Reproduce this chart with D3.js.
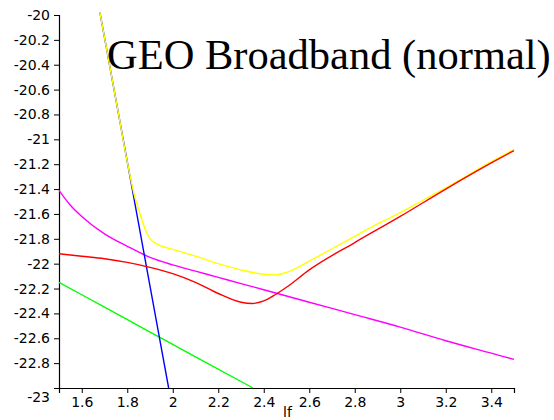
<!DOCTYPE html>
<html>
<head>
<meta charset="utf-8">
<script src="https://cdn.jsdelivr.net/npm/d3@7"></script>
<style>
  html, body { margin: 0; padding: 0; background: #fff; }
  svg { display: block; }
</style>
</head>
<body>
<svg id="chart" width="554" height="420"></svg>
<script>
// Axis ticks
const xTickValues = [1.6, 1.8, 2, 2.2, 2.4, 2.6, 2.8, 3, 3.2, 3.4];
const yTickValues = [-20, -20.2, -20.4, -20.6, -20.8, -21, -21.2, -21.4, -21.6, -21.8,
                     -22, -22.2, -22.4, -22.6, -22.8, -23];

// Series (lf vs. log level)
const greenX = [1.5, 1.7, 1.9, 2.1, 2.353];
const greenY = [-22.15, -22.35, -22.55, -22.75, -23.0];

const magentaX = [1.5, 1.55, 1.6, 1.7, 1.8, 1.9, 2.0, 2.1, 2.2, 2.3, 2.4, 2.6, 2.8, 3.0, 3.2, 3.4, 3.5];
const magentaY = [-21.41, -21.53, -21.62, -21.76, -21.86, -21.95, -22.01, -22.06, -22.11,
                  -22.16, -22.21, -22.31, -22.41, -22.51, -22.62, -22.72, -22.77];

const blueX = [1.68, 1.8, 1.9, 1.982];
const blueY = [-19.98, -21.18, -22.18, -23.0];

const yellowX = [1.68, 1.72, 1.76, 1.8, 1.83, 1.86, 1.88, 1.9, 1.93, 1.97, 2.0, 2.1, 2.2,
                 2.3, 2.4, 2.45, 2.5, 2.6, 2.7, 2.8, 2.9, 3.0, 3.1, 3.2, 3.4, 3.5];
const yellowY = [-19.98, -20.38, -20.78, -21.18, -21.44, -21.62, -21.73, -21.80, -21.84,
                 -21.87, -21.885, -21.94, -22.0, -22.05, -22.085, -22.09, -22.07, -21.98,
                 -21.88, -21.78, -21.68, -21.59, -21.49, -21.39, -21.18, -21.08];

const redX = [1.5, 1.6, 1.7, 1.8, 1.9, 2.0, 2.1, 2.2, 2.3, 2.35, 2.4, 2.45, 2.5, 2.6, 2.8,
              3.0, 3.2, 3.4, 3.5];
const redY = [-21.92, -21.94, -21.96, -21.99, -22.03, -22.08, -22.15, -22.24, -22.31, -22.32,
              -22.30, -22.25, -22.19, -22.05, -21.83, -21.62, -21.40, -21.19, -21.09];

const svg = d3.select("#chart");
svg.append("rect").attr("width", 554).attr("height", 420).attr("fill", "#fff");

const x = d3.scaleLinear().domain([1.5, 3.5]).range([59, 514]);
const y = d3.scaleLinear().domain([-23, -20]).range([388, 15]);

const fmt = d => String(+d.toFixed(1));
const labelFont = "'DejaVu Sans', Verdana, sans-serif";

// Minor ticks every 0.04
const yMinor = d3.range(0, 76).map(i => +(-20 - i * 0.04).toFixed(2));
const xMinor = d3.range(0, 50).map(i => +(1.52 + i * 0.04).toFixed(2)).filter(v => v < 3.5);

const gy = svg.append("g").attr("transform", `translate(${x(1.5)},0)`);
gy.call(d3.axisLeft(y).tickValues(yMinor).tickSize(3).tickFormat(""));
gy.call(d3.axisLeft(y).tickValues(yTickValues).tickSize(5).tickPadding(4).tickFormat(fmt));

const gx = svg.append("g").attr("transform", `translate(0,${y(-23)})`);
gx.call(d3.axisBottom(x).tickValues(xMinor).tickSize(3).tickFormat(""));
gx.call(d3.axisBottom(x).tickValues(xTickValues).tickSize(5).tickPadding(4).tickFormat(fmt));

svg.selectAll(".domain").attr("stroke", "#000").attr("stroke-width", 1.2);
svg.selectAll(".tick line").attr("stroke", "#000");
svg.selectAll(".tick text")
  .attr("fill", "#000")
  .style("font-family", labelFont)
  .style("font-size", "14px");

// Bottom-most y label sits a bit lower, below the axis corner
gy.selectAll(".tick text").filter(d => d === -23).attr("dy", "0.95em");

// Axis name
svg.append("text")
  .attr("x", 283).attr("y", 417)
  .style("font-family", labelFont)
  .style("font-size", "14px")
  .text("lf");

// Curves
const line = d3.line().x(d => x(d[0])).y(d => y(d[1])).curve(d3.curveMonotoneX);
const series = [
  { xs: greenX, ys: greenY, color: "#00ff00" },
  { xs: magentaX, ys: magentaY, color: "#ff00ff" },
  { xs: blueX, ys: blueY, color: "#0000ff" },
  { xs: yellowX, ys: yellowY, color: "#ffff00" },
  { xs: redX, ys: redY, color: "#ff0000" }
];
series.forEach(s => {
  svg.append("path")
    .datum(s.xs.map((v, i) => [v, s.ys[i]]))
    .attr("d", line)
    .attr("fill", "none")
    .attr("stroke", s.color)
    .attr("stroke-width", 1.4);
});

// Title
svg.append("text")
  .attr("x", 107).attr("y", 69)
  .style("font-family", "'Liberation Serif', 'Times New Roman', serif")
  .style("font-size", "42.5px")
  .attr("fill", "#000")
  .text("GEO Broadband (normal)");
</script>
</body>
</html>
